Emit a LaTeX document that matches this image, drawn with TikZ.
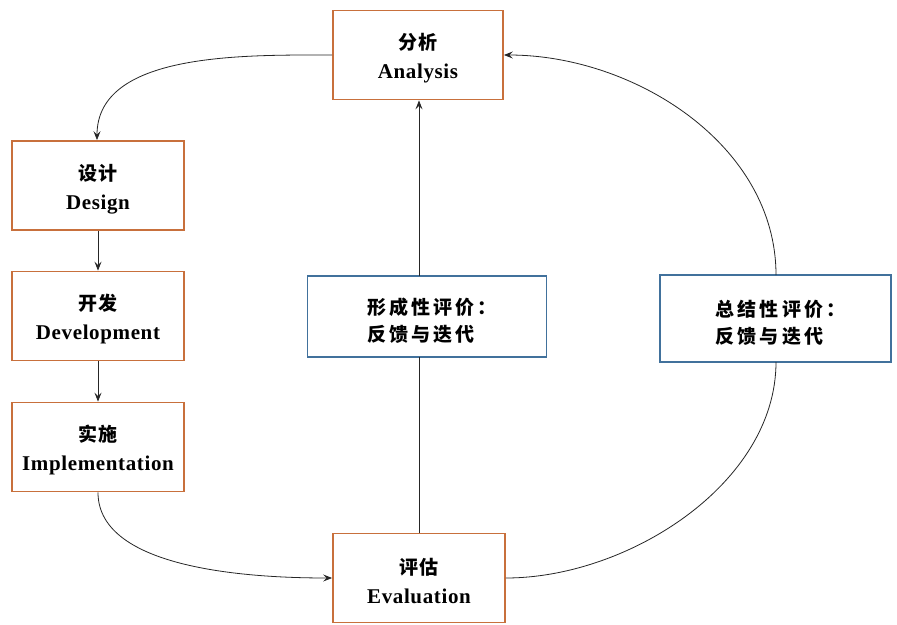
\documentclass[tikz,border=0pt]{standalone}
\usepackage{fontspec}
\setmainfont{Liberation Serif}
\newfontfamily\cjk[LetterSpace=6]{Noto Sans CJK SC}
\newfontfamily\cjkwide[LetterSpace=16]{Noto Sans CJK SC}
\newfontfamily\engb[LetterSpace=3]{Liberation Serif Bold}
\usetikzlibrary{arrows.meta}
\definecolor{boxorange}{RGB}{200,112,60}
\definecolor{boxblue}{RGB}{65,113,156}
\tikzset{
  stagebox/.style={draw=boxorange, line width=1.8pt, fill=white, minimum width=170pt, minimum height=89pt, align=center, inner sep=0pt, font=\fontsize{19}{29}\selectfont},
  fbbox/.style={draw=boxblue, line width=1.4pt, fill=white, align=left, inner sep=0pt, font=\cjkwide\bfseries\fontsize{19}{27}\selectfont},
  conn/.style={line width=0.8pt, draw=black!85},
  arr/.style={conn, -{Stealth[length=9pt,width=7pt,inset=3.5pt]}},
}
\newcommand{\stagetext}[2]{{\cjk\bfseries\rule{0pt}{23pt}#1}\\{\engb\fontsize{21}{29}\selectfont #2}}
\newcommand{\fbtext}[2]{\rule{0pt}{24pt}\hspace*{10pt}#1\\\hspace*{10pt}#2}
\begin{document}
\begin{tikzpicture}[x=1pt,y=-1pt]
\useasboundingbox (0,0) rectangle (897,624);
\fill[white] (0,0) rectangle (897,624);
\node[stagebox] (ana) at (418,55) {\stagetext{分析}{Analysis}};
\node[stagebox, minimum width=172pt] (des) at (98,185.5) {\stagetext{设计}{Design}};
\node[stagebox, minimum width=172pt] (dev) at (98,316) {\stagetext{开发}{Development}};
\node[stagebox, minimum width=172pt] (imp) at (98,447) {\stagetext{实施}{Implementation}};
\node[stagebox, minimum width=172pt] (eva) at (419,578) {\stagetext{评估}{Evaluation}};
\node[fbbox, minimum width=239pt, minimum height=81pt] (form) at (427,316.5)
  {\fbtext{形成性评价：}{反馈与迭代}};
\node[fbbox, minimum width=231pt, minimum height=87pt] (summ) at (775.5,318.5)
  {\fbtext{总结性评价：}{反馈与迭代}};
\coordinate (formtop) at (419,276);
\coordinate (formbot) at (419,357);
\coordinate (summtop) at (776,275);
\coordinate (summbot) at (776,362);
\draw[arr] (ana.west) to[out=180,in=90,looseness=0.9] (des.north -| 97,0);
\draw[arr] (des.south) -- (dev.north);
\draw[arr] (dev.south) -- (imp.north);
\draw[arr] (imp.south) to[out=-90,in=180,looseness=0.8] (eva.west);
\draw[conn] (eva.north) -- (formbot);
\draw[arr] (formtop) -- (ana.south -| formtop);
\draw[conn] (eva.east) to[out=0,in=-90,looseness=0.9] (summbot);
\draw[arr] (summtop) to[out=90,in=0,looseness=0.95] (ana.east);
\end{tikzpicture}
\end{document}
